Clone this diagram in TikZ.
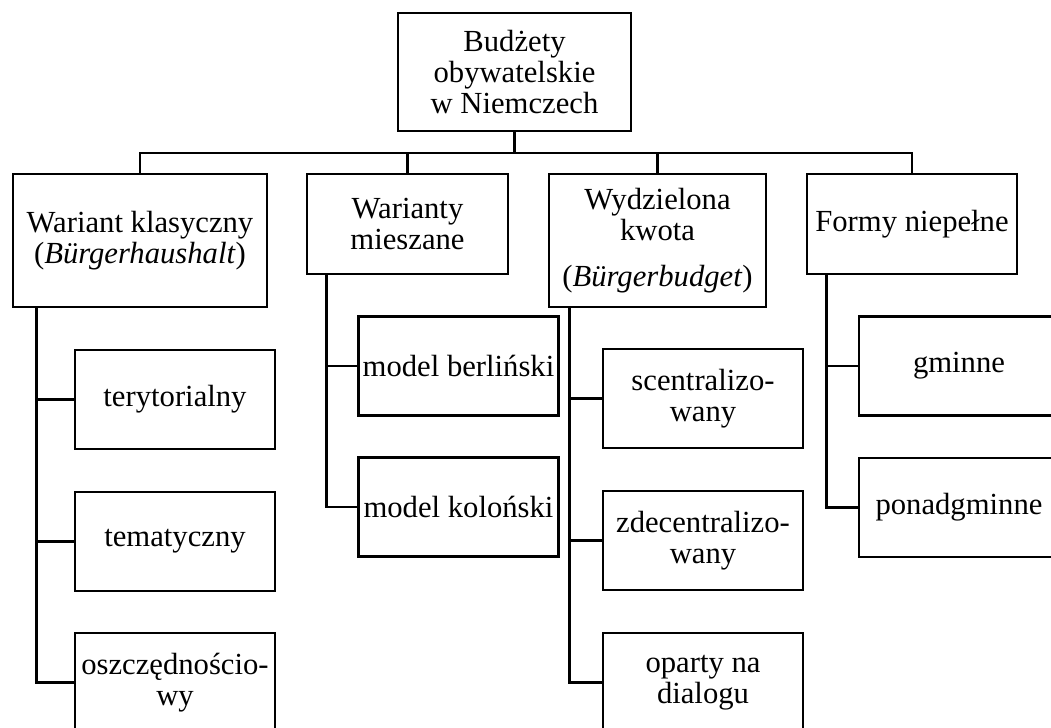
\documentclass[tikz,border=0pt]{standalone}
\usepackage{fontspec}
\setmainfont{Liberation Serif}
\usetikzlibrary{calc}
\begin{document}
\begin{tikzpicture}[x=0.75pt,y=-0.75pt,
  line width=2pt,
  box/.style 2 args={draw, inner sep=0pt, align=center,
    minimum width=#1*0.75pt, minimum height=#2*0.75pt,
    font=\fontsize{23}{23.6}\selectfont},
  topbox/.style={box={233}{118}},
  catbox/.style={box={#1}{133}},
  smallcat/.style={box={#1}{100}},
  leaf/.style={box={200}{99}},
  link/.style={line cap=rect}]
\useasboundingbox (0,0) rectangle (1051,728);

% root
\node[topbox] (root) at (514.5,72) {Budżety\\obywatelskie\\w Niemczech};

% main categories
\node[catbox=254]   (b1) at (140,240.5) {Wariant klasyczny\\(\textit{Bürgerhaushalt})};
\node[smallcat=201] (b2) at (407.5,224) {Warianty\\mieszane};
\node[catbox=217]   (b3) at (657.5,240.5) {Wydzielona\\kwota\\[10.5pt](\textit{Bürgerbudget})};
\node[smallcat=210] (b4) at (912,224) {Formy niepełne};

% sub-variants
\node[leaf] (c11) at (175,399.5) {terytorialny};
\node[leaf] (c12) at (175,541.5) {tematyczny};
\node[leaf] (c13) at (175,682.5) {oszczędnościo-\\wy};

\node[leaf] (c21) at (458.5,366) {model berliński};
\node[leaf] (c22) at (458.5,507) {model koloński};

\node[leaf] (c31) at (703,398.5) {scentralizo-\\wany};
\node[leaf] (c32) at (703,540.5) {zdecentralizo-\\wany};
\node[leaf] (c33) at (703,682.5) {oparty na\\dialogu};

\node[leaf] (c41) at (959,366) {gminne};
\node[leaf] (c42) at (959,507.5) {ponadgminne};

% bus between root and categories
\coordinate (bus) at (0,153);
\draw[link] (root.south) -- (root.south |- bus);
\draw[link] (b1.north) -- (b1.north |- bus) -- (b4.north |- bus) -- (b4.north);
\draw[link] (b2.north) -- (b2.north |- bus);
\draw[link] (b3.north) -- (b3.north |- bus);

% vertical spines with branches to the sub-variants
\coordinate (d1) at ($(b1.south west)+(25,0)$);
\draw (d1) |- (c13.west);
\draw (d1 |- c11.west) -- (c11.west);
\draw (d1 |- c12.west) -- (c12.west);

\coordinate (d2) at ($(b2.south west)+(21,0)$);
\draw (d2) |- (c22.west);
\draw (d2 |- c21.west) -- (c21.west);

\coordinate (d3) at ($(b3.south west)+(22,0)$);
\draw (d3) |- (c33.west);
\draw (d3 |- c31.west) -- (c31.west);
\draw (d3 |- c32.west) -- (c32.west);

\coordinate (d4) at ($(b4.south west)+(21,0)$);
\draw (d4) |- (c42.west);
\draw (d4 |- c41.west) -- (c41.west);
\end{tikzpicture}
\end{document}
